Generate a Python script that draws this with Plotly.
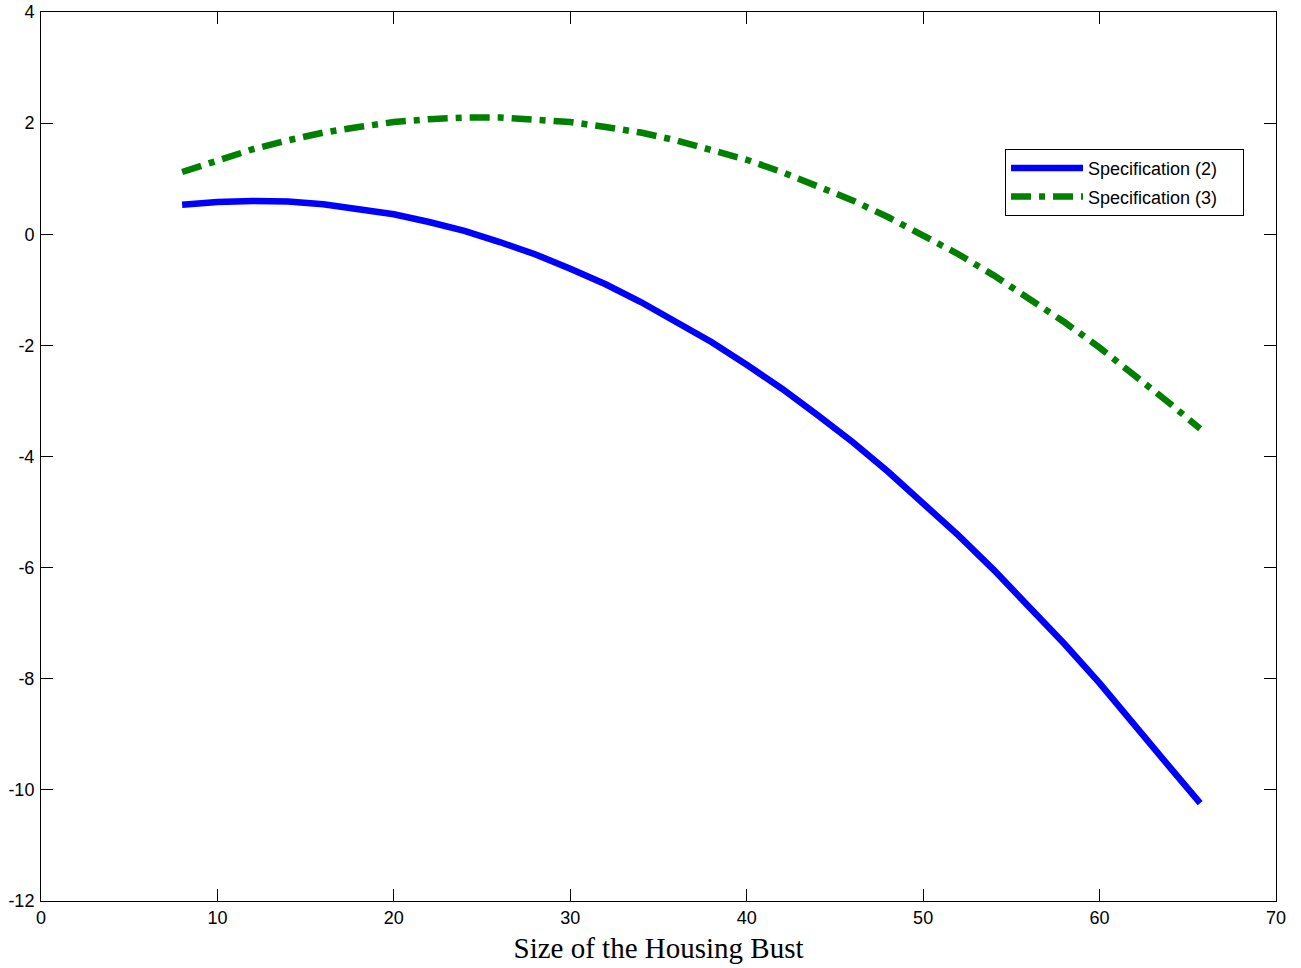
import plotly.graph_objects as go

# Size of the housing bust (x) and estimated effects
bust_size = [8, 10, 12, 14, 16, 18, 20, 22, 24, 26, 28, 30, 32, 34, 36, 38,
             40, 42, 44, 46, 48, 50, 52, 54, 56, 58, 60, 62, 64, 65.7]
spec2 = [0.53, 0.58, 0.60, 0.59, 0.54, 0.46, 0.36, 0.22, 0.06, -0.14, -0.36,
         -0.62, -0.90, -1.22, -1.57, -1.94, -2.35, -2.78, -3.25, -3.74, -4.27,
         -4.83, -5.42, -6.04, -6.69, -7.37, -8.08, -8.82, -9.60, -10.24]
spec3 = [1.12, 1.34, 1.53, 1.69, 1.83, 1.93, 2.02, 2.07, 2.10, 2.10, 2.07,
         2.02, 1.93, 1.83, 1.69, 1.53, 1.34, 1.12, 0.88, 0.61, 0.31, -0.01,
         -0.36, -0.74, -1.15, -1.58, -2.04, -2.53, -3.05, -3.50]

series_names = ["Specification (2)", "Specification (3)"]
x_ticks = [0, 10, 20, 30, 40, 50, 60, 70]
y_ticks = [4, 2, 0, -2, -4, -6, -8, -10, -12]
y_tick_text = ["4", "2", "0", "-2", "-4", "-6", "-8", "-10", "-12"]
x_title = "Size of the Housing Bust"

pad = "\u00a0" * 4
fig = go.Figure()
fig.add_trace(go.Scatter(x=bust_size, y=spec2, mode="lines", name=series_names[0] + pad,
                         legendgroup="a",
                         line=dict(color="#0000FF", width=6.5)))
fig.add_trace(go.Scatter(x=bust_size, y=spec3, mode="lines", name=series_names[1] + pad,
                         legendgroup="b",
                         line=dict(color="#008000", width=6.5, dash="20px,8px,6px,8px")))

tick_font = dict(family="Arial, Liberation Sans", size=18, color="black")
axis_common = dict(showgrid=False, zeroline=False, showline=True, linecolor="black",
                   linewidth=1, mirror="ticks", ticks="inside", ticklen=12,
                   tickcolor="black", tickwidth=1, automargin=False,
                   ticklabeloverflow="allow", tickfont=tick_font)

fig.update_layout(
    width=1301, height=968,
    margin=dict(l=41, r=25, t=12, b=67, autoexpand=False),
    paper_bgcolor="white", plot_bgcolor="white",
    xaxis=dict(range=[0, 70], tickvals=x_ticks, ticklabelstandoff=0,
               title=dict(text=x_title, standoff=11,
                          font=dict(family="Times New Roman, Liberation Serif", size=29, color="black")),
               **axis_common),
    yaxis=dict(range=[-12, 4], tickvals=y_ticks, ticktext=y_tick_text,
               ticklabelstandoff=2, **axis_common),
    legend=dict(x=0.7806, y=0.846, xanchor="left", yanchor="top",
                bgcolor="white", bordercolor="black", borderwidth=1,
                font=dict(family="Arial, Liberation Sans", size=18, color="black"),
                tracegroupgap=2, itemwidth=72),
    showlegend=True,
)

fig.write_html("out.html", config={"displayModeBar": False},
               post_script="document.body.style.margin='0';document.body.style.overflow='hidden';")
